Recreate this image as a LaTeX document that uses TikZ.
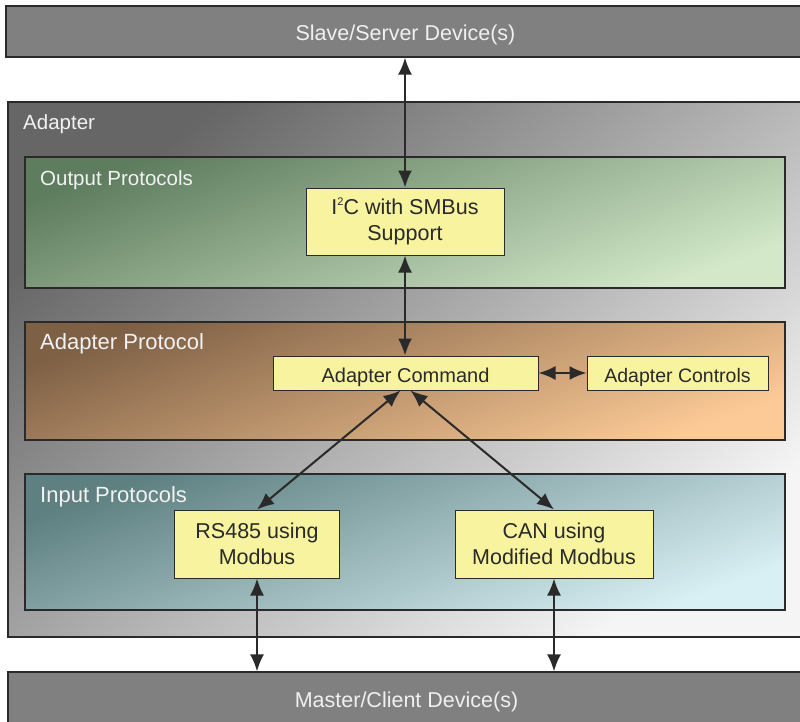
\documentclass[tikz,border=0pt]{standalone}
\usepackage{fontspec}
\setmainfont{Liberation Sans}
\usepackage{xcolor}
\usetikzlibrary{arrows.meta}

\definecolor{devgray}{HTML}{808080}
\definecolor{boxyellow}{HTML}{F7F39F}
\definecolor{edge}{HTML}{2A2A2A}
\definecolor{greentop}{HTML}{5E7C5E}
\definecolor{greenmid}{HTML}{A6D4A6}
\definecolor{greenbot}{HTML}{D2E8C8}
\definecolor{orangetop}{HTML}{7E6045}
\definecolor{orangemid}{HTML}{D6A77A}
\definecolor{orangebot}{HTML}{FCCA96}
\definecolor{cyantop}{HTML}{5E8080}
\definecolor{cyanmid}{HTML}{A2CFCF}
\definecolor{cyanbot}{HTML}{D8EFF4}

\begin{document}
\begin{tikzpicture}[x=1pt, y=-1pt,
  every node/.style={inner sep=0},
  device/.style={rectangle, draw=edge, line width=1.2pt, fill=devgray, text=white!94!black,
    font=\fontsize{21.5}{26}\selectfont, text height=20pt, text depth=3pt},
  panel/.style={rectangle, draw=edge, line width=1.2pt},
  label/.style={anchor=base west, text=white!95!black, font=\fontsize{21}{25}\selectfont},
  block/.style={rectangle, draw=edge, line width=1pt, fill=boxyellow, text=edge, align=center,
    font=\fontsize{21.5}{26}\selectfont},
  link/.style={line width=2pt, draw=edge, {Latex[length=17pt,width=14pt]}-{Latex[length=17pt,width=14pt]}}]

  \useasboundingbox (0,0) rectangle (800,721);

  % Devices
  \node[device, minimum width=799pt, minimum height=51pt] (slave) at (405.5,31.5) {Slave/Server Device(s)};
  \node[device, minimum width=797pt, minimum height=54pt] (master) at (406.5,699) {Master/Client Device(s)};

  % Adapter and its layers
  \node[panel, minimum width=797pt, minimum height=535pt,
    top color=black!60, bottom color=black!4, shading angle=40] (adapter) at (406.5,369.5) {};
  \node[panel, minimum width=760pt, minimum height=131pt,
    top color=greentop, middle color=greenmid, bottom color=greenbot, shading angle=20] (output) at (405,222.5) {};
  \node[panel, minimum width=760pt, minimum height=118pt,
    top color=orangetop, middle color=orangemid, bottom color=orangebot, shading angle=20] (proto) at (405,381) {};
  \node[panel, minimum width=760pt, minimum height=136pt,
    top color=cyantop, middle color=cyanmid, bottom color=cyanbot, shading angle=20] (input) at (405,542) {};

  \node[label, font=\fontsize{20.5}{25}\selectfont] (adapterlbl) at (23,129) {Adapter};
  \node[label, font=\fontsize{20.5}{25}\selectfont] (outputlbl) at (40,185) {Output Protocols};
  \node[label, font=\fontsize{22}{25}\selectfont] (protolbl) at (40,349) {Adapter Protocol};
  \node[label, font=\fontsize{22}{25}\selectfont] (inputlbl) at (40,502) {Input Protocols};

  % Blocks
  \node[block, minimum width=198pt, minimum height=67pt] (i2c) at (405,221.5)
    {I\raisebox{0.75ex}{\fontsize{11}{11}\selectfont 2}C with SMBus\\Support};
  \node[block, minimum width=265pt, minimum height=34pt, font=\fontsize{20}{24}\selectfont,
    text height=20pt, text depth=2pt] (cmd) at (405.5,373) {Adapter Command};
  \node[block, minimum width=181pt, minimum height=34pt, font=\fontsize{19.5}{24}\selectfont,
    text height=20pt, text depth=2pt] (ctrl) at (677.5,373) {Adapter Controls};
  \node[block, minimum width=165pt, minimum height=68pt] (rs) at (257,544) {RS485 using\\Modbus};
  \node[block, minimum width=198pt, minimum height=68pt] (can) at (554,544) {CAN using\\Modified Modbus};

  % Links
  \draw[link] (slave.south -| i2c.north) -- (i2c.north);
  \draw[link] (i2c.south) -- (cmd.north -| i2c.south);
  \draw[link] (cmd.east) -- (ctrl.west);
  \draw[link] ([xshift=-5pt]cmd.south) -- (rs.north);
  \draw[link] ([xshift=5pt]cmd.south) -- (can.north);
  \draw[link] (rs.south) -- (rs.south |- master.north);
  \draw[link] (can.south) -- (can.south |- master.north);
\end{tikzpicture}
\end{document}
